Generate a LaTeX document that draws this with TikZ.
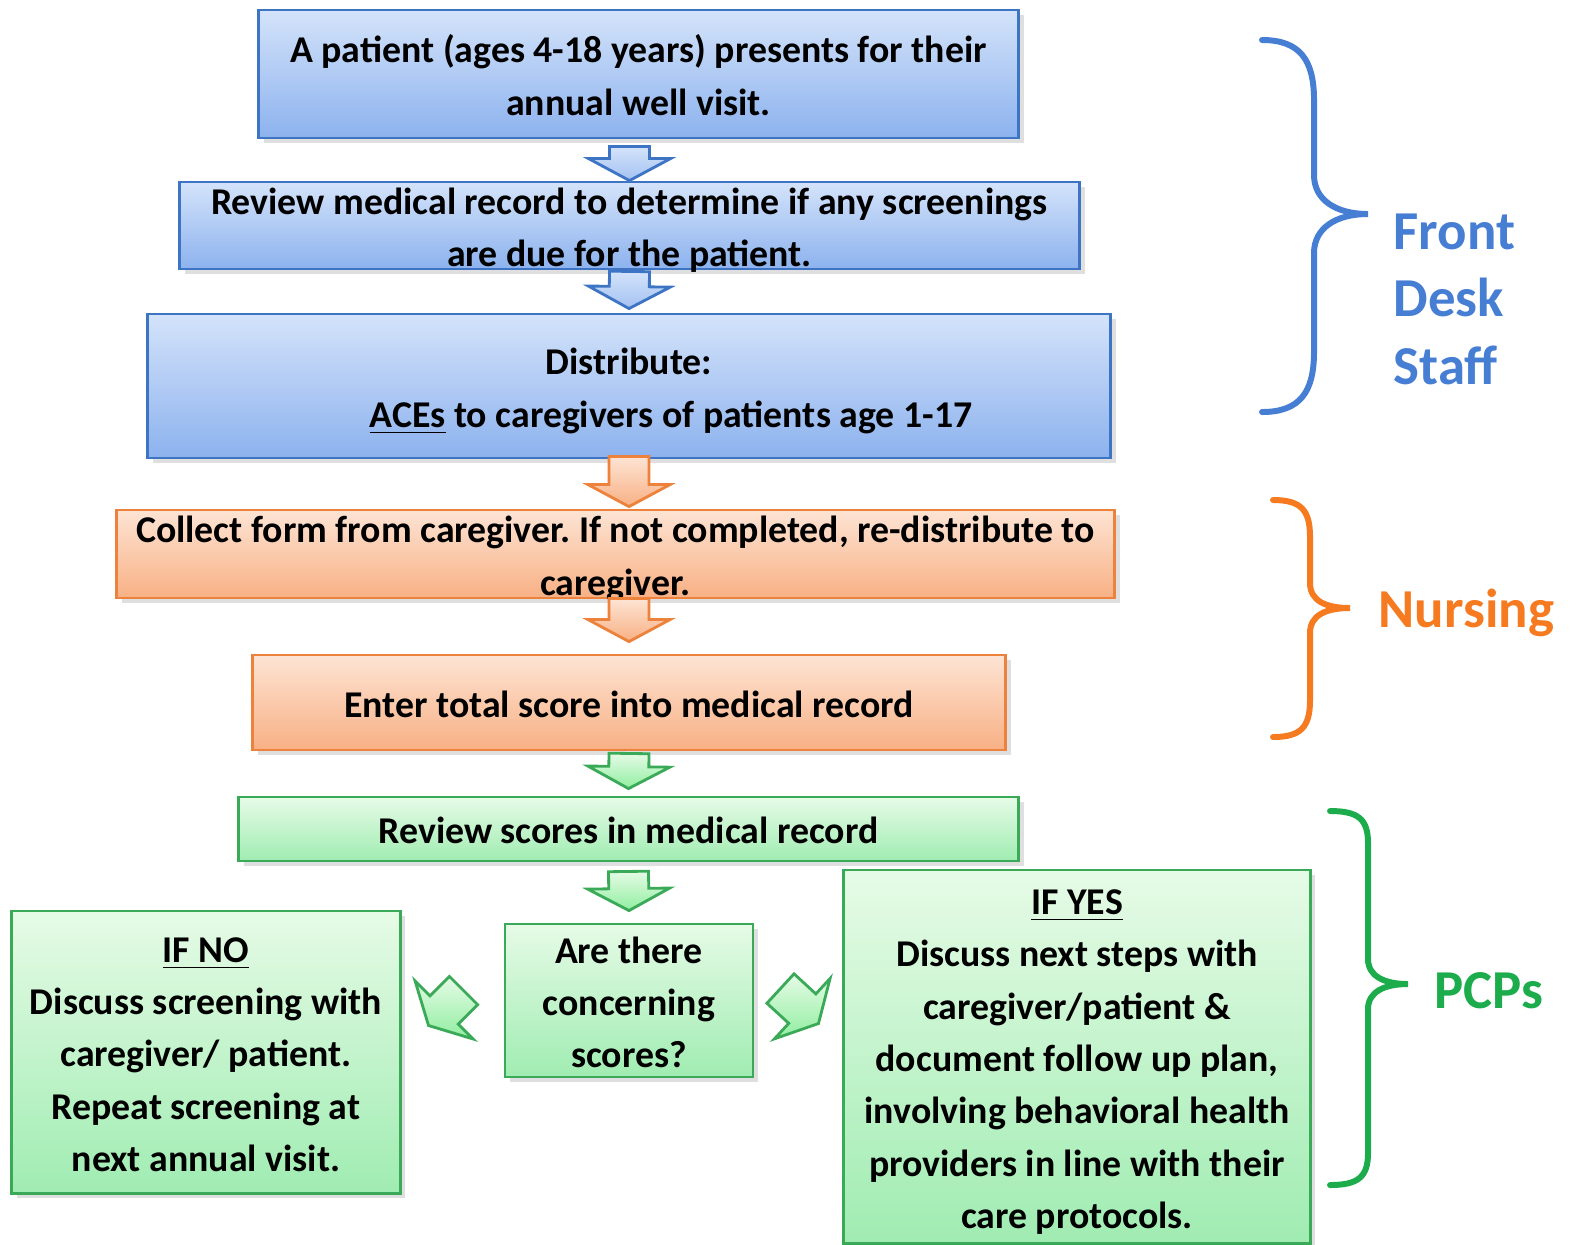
\documentclass[tikz,border=0pt]{standalone}
\usepackage{fontspec}
\setmainfont{Carlito}
\usetikzlibrary{calc,shadows}
\frenchspacing

\definecolor{fdblue}{RGB}{70,126,212}
\definecolor{nurseorange}{RGB}{245,122,32}
\definecolor{pcpgreen}{RGB}{28,172,75}
\definecolor{blueline}{RGB}{62,116,196}
\definecolor{bluetop}{RGB}{212,227,250}
\definecolor{bluebot}{RGB}{140,178,238}
\definecolor{orangeline}{RGB}{236,130,60}
\definecolor{orangetop}{RGB}{253,228,212}
\definecolor{orangebot}{RGB}{248,176,132}
\definecolor{greenline}{RGB}{58,170,88}
\definecolor{greentop}{RGB}{230,251,230}
\definecolor{greenbot}{RGB}{160,236,178}

\newcommand{\boxfont}{\fontsize{10.75}{14.9}\selectfont\bfseries}
\newcommand{\rolefont}{\fontsize{15.6}{19.2}\selectfont\bfseries}
\newcommand{\topstrut}{\rule{0pt}{11.5pt}}

\tikzset{
  stepbox/.style={draw, line width=0.8pt, inner sep=0pt,
    drop shadow={opacity=0.25, shadow xshift=1.5pt, shadow yshift=-1.5pt}},
  steptext/.style={font=\boxfont, align=center, inner sep=0pt,
    execute at end node={\rule[-3pt]{0pt}{3pt}}},
  frontbox/.style={stepbox, draw=blueline, top color=bluetop, bottom color=bluebot},
  nursebox/.style={stepbox, draw=orangeline, top color=orangetop, bottom color=orangebot},
  pcpbox/.style={stepbox, draw=greenline, top color=greentop, bottom color=greenbot},
  blockarrow/.style={line width=0.8pt, line join=miter, to path={
    ($(\tikztostart)!0.2cm!90:(\tikztotarget)$)
    -- ($(\tikztotarget)!0.22cm!(\tikztostart)!0.2cm!90:(\tikztotarget)$)
    -- ($(\tikztotarget)!0.22cm!(\tikztostart)!0.41cm!90:(\tikztotarget)$)
    -- (\tikztotarget)
    -- ($(\tikztotarget)!0.22cm!(\tikztostart)!0.41cm!-90:(\tikztotarget)$)
    -- ($(\tikztotarget)!0.22cm!(\tikztostart)!0.2cm!-90:(\tikztotarget)$)
    -- ($(\tikztostart)!0.2cm!-90:(\tikztotarget)$) -- cycle}},
  frontarrow/.style={blockarrow, draw=blueline, top color=bluetop, bottom color=bluebot!80!white},
  nursearrow/.style={blockarrow, draw=orangeline, top color=orangetop, bottom color=orangebot},
  pcparrow/.style={blockarrow, draw=greenline, top color=greentop, bottom color=greenbot!90!green},
  bracestroke/.style={line width=1.7pt, line cap=round},
  rolelabel/.style={font=\rolefont, align=left, anchor=west, inner sep=0pt}
}

\begin{document}
\begin{tikzpicture}[x=0.01cm, y=-0.01cm]
  \useasboundingbox (0,0) rectangle (1577,1244);

  % front desk
  \node[frontbox, minimum width=7.59cm, minimum height=1.28cm,
    label={[steptext]center:\topstrut A patient (ages 4-18 years) presents for their\\annual well visit.}]
    (patient) at (638.5,74) {};
  \node[frontbox, minimum width=8.99cm, minimum height=0.87cm,
    label={[steptext]center:\topstrut Review medical record to determine if any screenings\\are due for the patient.}]
    (recordcheck) at (629.5,225.5) {};
  \node[frontbox, minimum width=9.62cm, minimum height=1.44cm,
    label={[steptext]center:\topstrut Distribute:\\\hspace*{0.84cm}\underline{ACEs} to caregivers of patients age 1-17}]
    (distribute) at (629,386) {};

  % nursing
  \node[nursebox, minimum width=9.97cm, minimum height=0.88cm,
    label={[steptext]center:\topstrut Collect form from caregiver. If not completed, re-distribute to\\caregiver.}]
    (collect) at (615.5,554) {};
  \node[nursebox, minimum width=7.52cm, minimum height=0.95cm,
    label={[steptext]center:\topstrut Enter total score into medical record}]
    (enter) at (629,702.5) {};

  % pcps
  \node[pcpbox, minimum width=7.79cm, minimum height=0.64cm,
    label={[steptext]center:\topstrut Review scores in medical record}]
    (reviewscores) at (628.5,829) {};
  \node[pcpbox, minimum width=2.48cm, minimum height=1.53cm,
    label={[steptext]center:\topstrut Are there\\concerning\\scores?}]
    (concern) at (629,1000.5) {};
  \node[pcpbox, minimum width=3.88cm, minimum height=2.82cm,
    label={[steptext]center:\topstrut\underline{IF NO}\\Discuss screening with\\caregiver/ patient.\\Repeat screening at\\next annual visit.}]
    (ifno) at (206,1052) {};
  \node[pcpbox, minimum width=4.66cm, minimum height=3.73cm,
    label={[steptext]center:\topstrut\underline{IF YES}\\Discuss next steps with\\caregiver/patient \&\\document follow up plan,\\involving behavioral health\\providers in line with their\\care protocols.}]
    (ifyes) at (1077,1056.5) {};

  \coordinate (a1s) at ($(patient.south -| recordcheck.north)+(0,7)$);
  \coordinate (a1e) at (recordcheck.north);
  \coordinate (a2s) at ($(recordcheck.south)+(0,1)$);
  \coordinate (a2e) at ($(distribute.north)+(0,-4)$);
  \coordinate (o1s) at ($(distribute.south)+(0,-3)$);
  \coordinate (o1e) at ($(distribute.south |- collect.north)+(0,-2)$);
  \coordinate (o2s) at ($(collect.south -| enter.north)+(0,-1)$);
  \coordinate (o2e) at ($(enter.north)+(0,-12)$);
  \coordinate (g1s) at ($(enter.south)+(0,2)$);
  \coordinate (g1e) at ($(reviewscores.north)+(0,-7)$);
  \coordinate (g2s) at ($(reviewscores.south)+(0,9)$);
  \coordinate (g2e) at ($(concern.north)+(0,-12)$);
  \coordinate (nos) at ($(concern.west)+(-40,-10)$);
  \coordinate (noe) at ($(concern.west)+(-75,25)$);
  \coordinate (yess) at ($(concern.east)+(26,-12)$);
  \coordinate (yese) at ($(concern.east)+(64,23)$);

  \draw[frontarrow] (a1s) to (a1e);
  \draw[frontarrow] (a2s) to (a2e);
  \draw[nursearrow] (o1s) to (o1e);
  \draw[nursearrow] (o2s) to (o2e);
  \draw[pcparrow] (g1s) to (g1e);
  \draw[pcparrow] (g2s) to (g2e);
  \draw[pcparrow] (nos) to (noe);
  \draw[pcparrow] (yess) to (yese);

  % braces and roles
  \draw[bracestroke, fdblue] (1262,40) .. controls +(38,0) and +(0,-40) .. (1314,100) -- (1314,175)
    .. controls +(0,25) and +(-32,0) .. (1368,214) .. controls +(-32,0) and +(0,-25) .. (1314,253)
    -- (1314,352) .. controls +(0,40) and +(38,0) .. (1262,412);
  \draw[bracestroke, nurseorange] (1273,500) .. controls +(28,0) and +(0,-27) .. (1310,537) -- (1310,583)
    .. controls +(0,18) and +(-24,0) .. (1350,608) .. controls +(-24,0) and +(0,-18) .. (1310,633)
    -- (1310,700) .. controls +(0,27) and +(28,0) .. (1273,737);
  \draw[bracestroke, pcpgreen] (1330,811) .. controls +(28,0) and +(0,-24) .. (1368,843) -- (1368,959)
    .. controls +(0,17) and +(-24,0) .. (1408,984) .. controls +(-24,0) and +(0,-17) .. (1368,1009)
    -- (1368,1153) .. controls +(0,24) and +(28,0) .. (1330,1185);

  \node[rolelabel, text=fdblue] (frontdesk) at (1393,299) {Front\\Desk\\Staff};
  \node[rolelabel, text=nurseorange] (nursing) at (1378,613) {Nursing};
  \node[rolelabel, text=pcpgreen] (pcps) at (1434,991) {PCPs};
\end{tikzpicture}
\end{document}
